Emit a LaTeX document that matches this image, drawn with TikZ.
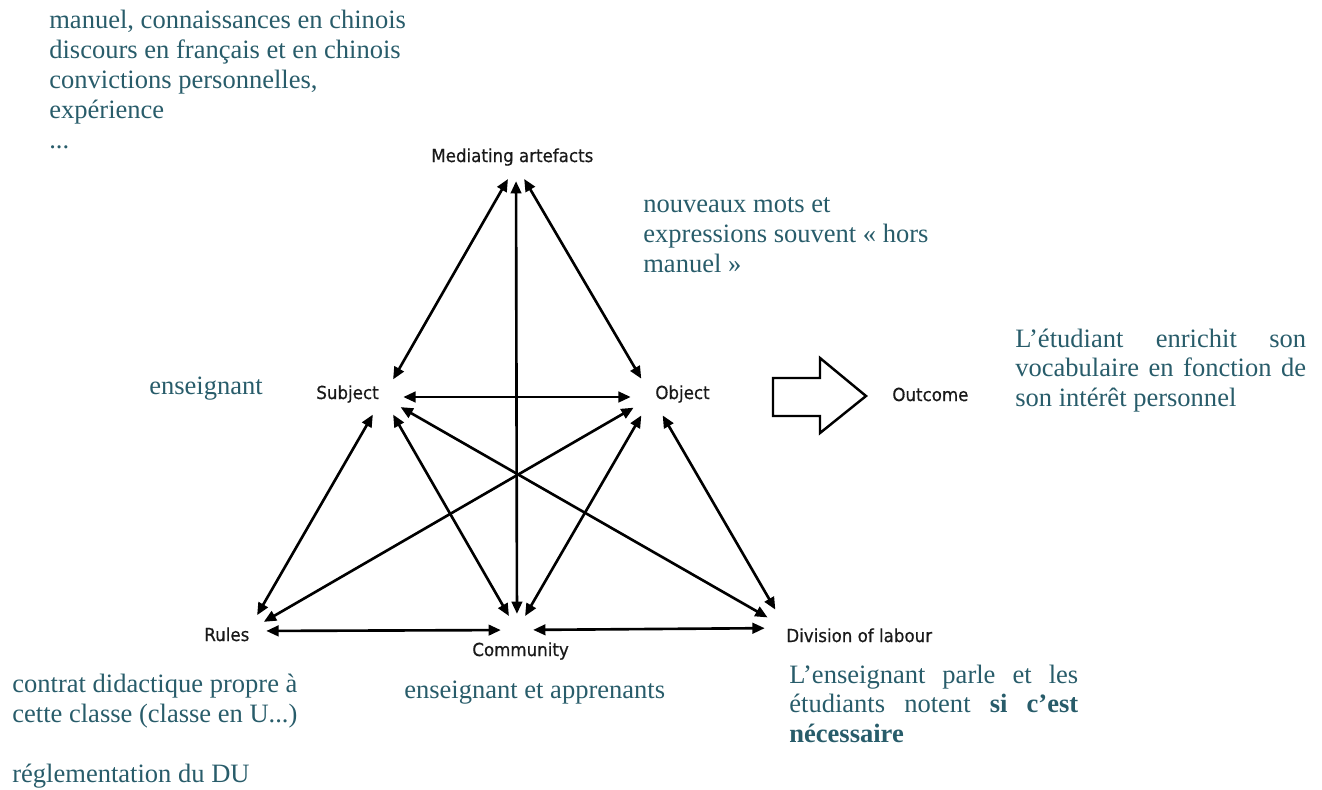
\documentclass[tikz,border=0pt]{standalone}
\usepackage{fontspec}
\setmainfont{Liberation Serif}
\newfontfamily\diagfont[FakeBold=0.6,FakeStretch=0.93]{DejaVu Sans}
\usetikzlibrary{arrows.meta}
\definecolor{noteteal}{RGB}{40,92,106}
\definecolor{labelgray}{RGB}{25,25,25}
\hyphenpenalty=10000
\exhyphenpenalty=10000

\begin{document}
\begin{tikzpicture}[x=0.02cm,y=-0.02cm]
\tikzset{
  corner/.style={font=\diagfont\fontsize{10.2}{12}\selectfont,text=labelgray,inner sep=0pt,anchor=base west},
  hub/.style={circle,inner sep=0pt,minimum size=#1},
  link/.style={{Triangle[length=7pt,width=6pt]}-{Triangle[length=7pt,width=6pt]},line width=1.5pt},
  note/.style={font=\fontsize{15.1}{17}\selectfont,text=noteteal,inner sep=0pt,anchor=base west,align=left},
  notebox/.style={note,text width=#1,align=justify}
}
\useasboundingbox (0,0) rectangle (1322,789);

% corners of the triangle
\node[corner] (mediating) at (431,162) {Mediating artefacts};
\node[corner] (subject) at (316,399) {Subject};
\node[corner] (object) at (655,399) {Object};
\node[corner] (outcome) at (892,401) {Outcome};
\node[corner] (rules) at (204,641) {Rules};
\node[corner] (community) at (472,656) {Community};
\node[corner] (division) at (786,642) {Division of labour};

% invisible hubs where the arrows meet
\node[hub=18pt] (h_med) at (516,165) {};
\node[hub=22.7pt] (h_sub) at (383,397) {};
\node[hub=23.8pt] (h_obj) at (652,397) {};
\node[hub=20.4pt] (h_rul) at (248,631) {};
\node[hub=18pt] (h_com) at (517,630) {};
\node[hub=23.8pt] (h_div) at (786,628) {};

\draw[link] (h_med) -- (h_sub);
\draw[link] (h_med) -- (h_com);
\draw[link] (h_med) -- (h_obj);
\draw[link] (h_sub) -- (h_obj);
\draw[link] (h_sub) -- (h_rul);
\draw[link] (h_sub) -- (h_com);
\draw[link] (h_sub) -- (h_div);
\draw[link] (h_obj) -- (h_rul);
\draw[link] (h_obj) -- (h_com);
\draw[link] (h_obj) -- (h_div);
\draw[link] (h_rul) -- (h_com);
\draw[link] (h_com) -- (h_div);

% big arrow to the outcome
\draw[line width=1.4pt,miter limit=10] (773,378) -- (820,378) -- (820,358) -- (866,396)
  -- (820,433) -- (820,416) -- (773,416) -- cycle;

% comments in teal (multi-line nodes sit on their last baseline)
\node[note] (n_tools) at (49,148) {manuel, connaissances en chinois\\discours en français et en chinois\\convictions personnelles,\\expérience\\...};
\node[note] (n_object) at (643,272) {nouveaux mots et\\expressions souvent « hors\\manuel »};
\node[note] (n_subject) at (149,394) {enseignant};
\node[notebox=165.5pt] (n_outcome) at (1015,347) {L’étudiant enrichit son vocabulaire en fonction de son intérêt personnel};
\node[note] (n_rules) at (12,782) {contrat didactique propre à\\cette classe (classe en U...)\\[17pt]réglementation du DU};
\node[note] (n_community) at (404,698) {enseignant et apprenants};
\node[notebox=164.4pt] (n_division) at (789,683) {L’enseignant parle et les étudiants notent {\bfseries si c’est nécessaire}};
\end{tikzpicture}
\end{document}
